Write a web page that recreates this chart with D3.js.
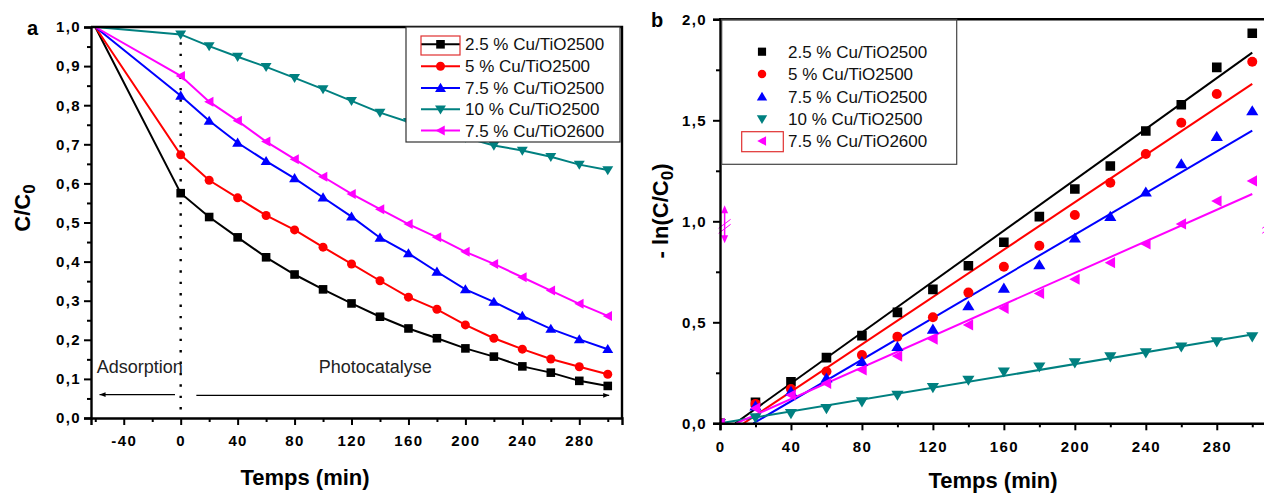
<!DOCTYPE html>
<html><head><meta charset="utf-8">
<script src="https://cdn.jsdelivr.net/npm/d3@7"></script>
<style>
body{margin:0;background:#fff}
svg{display:block}
text{font-family:"Liberation Sans",Arial,Helvetica,sans-serif}
</style>
</head><body>
<svg id="chart" width="1264" height="494"></svg>
<script>
// ---------------- DATA ----------------
const seriesNames = ["2.5 % Cu/TiO2500","5 % Cu/TiO2500","7.5 % Cu/TiO2500","10 % Cu/TiO2500","7.5 % Cu/TiO2600"];
const seriesColors = ["#000000","#ff0000","#0000ff","#008080","#ff00ff"];
const seriesMarkers = ["square","circle","up","down","left"];

// Panel a : C/C0 vs time
const timeA = [-60,0,20,40,60,80,100,120,140,160,180,200,220,240,260,280,300];
const a_cu25_500 = [1.0,0.575,0.514,0.462,0.411,0.367,0.329,0.293,0.259,0.229,0.204,0.178,0.157,0.132,0.116,0.095,0.082];
const a_cu5_500  = [1.0,0.673,0.608,0.563,0.518,0.481,0.437,0.394,0.351,0.309,0.278,0.238,0.204,0.176,0.151,0.131,0.112];
const a_cu75_500 = [1.0,0.824,0.760,0.704,0.657,0.613,0.564,0.515,0.461,0.421,0.374,0.329,0.297,0.261,0.228,0.201,0.176];
const a_cu10_500 = [1.0,0.981,0.951,0.924,0.898,0.870,0.841,0.811,0.781,0.757,0.738,0.717,0.697,0.684,0.668,0.648,0.634];
const a_cu75_600 = [1.0,0.875,0.809,0.760,0.707,0.662,0.617,0.573,0.534,0.496,0.462,0.425,0.394,0.360,0.326,0.292,0.261];
const aXMajor = [-40,0,40,80,120,160,200,240,280];
const aXMinor = [-60,-20,20,60,100,140,180,220,260,300];
const aYMajor = [0,0.1,0.2,0.3,0.4,0.5,0.6,0.7,0.8,0.9,1.0];
const aYMinor = [0.05,0.15,0.25,0.35,0.45,0.55,0.65,0.75,0.85,0.95];

// Panel b : -ln(C/C0) vs time
const timeB = [0,20,40,60,80,100,120,140,160,180,200,220,240,260,280,300];
const b_cu25_500 = [0,0.104,0.206,0.325,0.434,0.549,0.663,0.780,0.896,1.023,1.160,1.274,1.447,1.577,1.762,1.931];
const b_cu5_500  = [0,0.096,0.170,0.256,0.338,0.429,0.525,0.647,0.775,0.879,1.031,1.191,1.333,1.488,1.630,1.790];
const b_cu75_500 = [0,0.085,0.157,0.223,0.305,0.379,0.465,0.581,0.668,0.784,0.916,1.023,1.144,1.284,1.419,1.546];
const b_cu10_500 = [0,0.028,0.049,0.074,0.107,0.140,0.178,0.214,0.255,0.280,0.300,0.330,0.350,0.379,0.404,0.429];
const b_cu75_600 = [0,0.075,0.140,0.198,0.264,0.333,0.416,0.487,0.569,0.643,0.713,0.795,0.888,0.987,1.100,1.200];
// linear fits: start (time, value) and end (time, value)
const fitStartT = [8.6,13.3,18.8,0,9.2];
const fitStartV = [0,0,0,0,0];
const fitEndT   = [300,300,300,300,300];
const fitEndV   = [1.835,1.680,1.449,0.440,1.135];
const bXMajor = [0,40,80,120,160,200,240,280];
const bXMinor = [20,60,100,140,180,220,260,300];
const bYMajor = [0,0.5,1.0,1.5,2.0];
const bYMinor = [0.25,0.75,1.25,1.75];

const seriesA = [a_cu25_500,a_cu5_500,a_cu75_500,a_cu10_500,a_cu75_600];
const seriesB = [b_cu25_500,b_cu5_500,b_cu75_500,b_cu10_500,b_cu75_600];

// ---------------- DRAW ----------------
const svg = d3.select("#chart");
const fmt = d => d3.format(".1f")(d).replace(".", ",");
const fmtInt = d => String(d);

function markerPath(type, r){
  switch(type){
    case "square": return `M${-r},${-r}H${r}V${r}H${-r}Z`;
    case "circle": return `M${-r},0A${r},${r} 0 1,0 ${r},0A${r},${r} 0 1,0 ${-r},0Z`;
    case "up": return `M0,${-r}L${r*1.05},${r*0.75}L${-r*1.05},${r*0.75}Z`;
    case "down": return `M0,${r}L${r*1.05},${-r*0.75}L${-r*1.05},${-r*0.75}Z`;
    case "left": return `M${-r},0L${r*0.85},${-r}L${r*0.85},${r}Z`;
  }
}
const markerSizeA = {square:4.3,circle:4.5,up:5.2,down:5.2,left:5};
const markerSizeB = {square:4.8,circle:5,up:5.8,down:5.8,left:5.6};

function styleAxis(g, fontSize){
  g.select(".domain").attr("stroke","#000").attr("stroke-width",2.4);
  g.selectAll(".tick line").attr("stroke","#000").attr("stroke-width",2);
  g.selectAll("text").attr("font-size",fontSize).attr("font-weight","bold")
    .attr("fill","#000").attr("letter-spacing","1.4px")
    .style("font-family",'"Liberation Sans",Arial,sans-serif');
}

// ===== Panel a =====
const xa = d3.scaleLinear().domain([-63,310]).range([91,622]);
const ya = d3.scaleLinear().domain([0,1]).range([418,27]);

const ga = svg.append("g");
// dotted line at t=0
ga.append("line").attr("x1",xa(0)).attr("x2",xa(0)).attr("y1",ya(0.99)).attr("y2",ya(0.015))
  .attr("stroke","#000").attr("stroke-width",2.4).attr("stroke-dasharray","2.4,9");

const lineA = d3.line().x((d,i)=>xa(timeA[i])).y(d=>ya(d));
seriesA.forEach((s,k)=>{
  const g = ga.append("g");
  g.append("path").attr("d",lineA(s)).attr("fill","none")
    .attr("stroke",seriesColors[k]).attr("stroke-width",2);
  g.selectAll("path.m").data(s.slice(1)).join("path").attr("class","m")
    .attr("transform",(d,i)=>`translate(${xa(timeA[i+1])},${ya(d)})`)
    .attr("d",markerPath(seriesMarkers[k],markerSizeA[seriesMarkers[k]]))
    .attr("fill",seriesColors[k]);
});

// annotations
const defs = svg.append("defs");
defs.append("marker").attr("id","arrowL").attr("viewBox","0 0 10 10").attr("refX",0).attr("refY",5)
  .attr("markerWidth",10).attr("markerHeight",6).attr("markerUnits","userSpaceOnUse").attr("orient","auto")
  .append("path").attr("d","M10,1L0,5L10,9Z").attr("fill","#000");
defs.append("marker").attr("id","arrowR").attr("viewBox","0 0 10 10").attr("refX",10).attr("refY",5)
  .attr("markerWidth",10).attr("markerHeight",6).attr("markerUnits","userSpaceOnUse").attr("orient","auto")
  .append("path").attr("d","M0,1L10,5L0,9Z").attr("fill","#000");
// marker-end with orient auto: left-pointing line, so draw arrow path pointing forward
ga.append("line").attr("x1",xa(-4)).attr("x2",xa(-57)).attr("y1",ya(0.06)).attr("y2",ya(0.06))
  .attr("stroke","#000").attr("stroke-width",1.2).attr("marker-end","url(#arrowR)");
ga.append("line").attr("x1",xa(11)).attr("x2",xa(301)).attr("y1",ya(0.058)).attr("y2",ya(0.058))
  .attr("stroke","#000").attr("stroke-width",1.2).attr("marker-end","url(#arrowR)");
ga.append("text").attr("x",xa(-59)).attr("y",ya(0.115)).text("Adsorption")
  .attr("font-size",18).attr("fill","#222");
ga.append("text").attr("x",xa(97)).attr("y",ya(0.115)).text("Photocatalyse")
  .attr("font-size",18).attr("fill","#222");

// axes a
const axA = svg.append("g").attr("transform","translate(0,418)")
  .call(d3.axisBottom(xa).tickValues(aXMajor).tickSize(7).tickPadding(9).tickFormat(fmtInt));
styleAxis(axA,15);
axA.selectAll("text").attr("dy","0.71em").attr("y",17);
const axAm = svg.append("g").attr("transform","translate(0,418)")
  .call(d3.axisBottom(xa).tickValues(aXMinor).tickSize(4).tickFormat(""));
axAm.select(".domain").remove(); axAm.selectAll(".tick line").attr("stroke-width",2);
const ayA = svg.append("g").attr("transform","translate(91,0)")
  .call(d3.axisLeft(ya).tickValues(aYMajor).tickSize(7).tickPadding(3).tickFormat(fmt));
styleAxis(ayA,15);
const ayAm = svg.append("g").attr("transform","translate(91,0)")
  .call(d3.axisLeft(ya).tickValues(aYMinor).tickSize(4).tickFormat(""));
ayAm.select(".domain").remove(); ayAm.selectAll(".tick line").attr("stroke-width",2);
// frame top/right
svg.append("path").attr("d",`M91,27H622V418`).attr("fill","none").attr("stroke","#000").attr("stroke-width",2.4);

// legend a
const lgA = svg.append("g");
lgA.append("rect").attr("x",406).attr("y",27).attr("width",214).attr("height",115)
  .attr("fill","#fff").attr("stroke","#333").attr("stroke-width",1.2);
const rowsA = [44.3,66.3,88,109.3,130.5];
seriesNames.forEach((n,k)=>{
  const y = rowsA[k];
  lgA.append("line").attr("x1",421).attr("x2",460).attr("y1",y).attr("y2",y)
    .attr("stroke",seriesColors[k]).attr("stroke-width",2);
  lgA.append("path").attr("transform",`translate(440.5,${y})`)
    .attr("d",markerPath(seriesMarkers[k],markerSizeA[seriesMarkers[k]])).attr("fill",seriesColors[k]);
  lgA.append("text").attr("x",465).attr("y",y+6).text(n).attr("font-size",17).attr("fill","#111");
});
lgA.append("rect").attr("x",421).attr("y",36).attr("width",39).attr("height",19)
  .attr("fill","none").attr("stroke","#e03030").attr("stroke-width",1.2);

// titles a
svg.append("text").attr("x",27).attr("y",35).text("a").attr("font-size",20).attr("font-weight","bold");
const tA = svg.append("text").attr("transform","translate(30,208) rotate(-90)").attr("text-anchor","middle")
  .attr("font-size",22).attr("font-weight","bold");
tA.append("tspan").text("C/C");
tA.append("tspan").text("0").attr("font-size",17).attr("dy",5);
svg.append("text").attr("x",305).attr("y",485).attr("text-anchor","middle").text("Temps (min)")
  .attr("font-size",22).attr("font-weight","bold");

// ===== Panel b =====
const xb = d3.scaleLinear().domain([0,310]).range([720,1270]);
const yb = d3.scaleLinear().domain([0,2]).range([423.3,19.3]);
svg.append("clipPath").attr("id","clipB").append("rect")
  .attr("x",720).attr("y",19.3).attr("width",550).attr("height",404);

const gb = svg.append("g").attr("clip-path","url(#clipB)");
seriesB.forEach((s,k)=>{
  gb.append("line").attr("x1",xb(fitStartT[k])).attr("y1",yb(fitStartV[k]))
    .attr("x2",xb(fitEndT[k])).attr("y2",yb(fitEndV[k]))
    .attr("stroke",seriesColors[k]).attr("stroke-width",2);
});
seriesB.forEach((s,k)=>{
  gb.selectAll(null).data(s).join("path")
    .attr("transform",(d,i)=>`translate(${xb(timeB[i])},${yb(d)})`)
    .attr("d",markerPath(seriesMarkers[k],markerSizeB[seriesMarkers[k]]))
    .attr("fill",seriesColors[k]);
});

// axis break-like magenta symbols at y = 1.0
function breakSym(x,y){
  const g = svg.append("g").attr("transform",`translate(${x},${y})`).attr("stroke","#ff00ff").attr("fill","#ff00ff");
  g.append("line").attr("x1",0).attr("x2",0).attr("y1",-14).attr("y2",14).attr("stroke-width",1.5);
  g.append("path").attr("d","M0,-19L3.5,-11L-3.5,-11Z").attr("stroke","none");
  g.append("path").attr("d","M0,19L3.5,11L-3.5,11Z").attr("stroke","none");
  g.append("line").attr("x1",-6).attr("y1",4).attr("x2",6).attr("y2",-5).attr("stroke-width",1);
  g.append("line").attr("x1",-6).attr("y1",9).attr("x2",6).attr("y2",0).attr("stroke-width",1);
}
breakSym(xb(2.6), yb(0.985));
breakSym(xb(309), yb(0.985));

const axB = svg.append("g").attr("transform","translate(0,423.3)")
  .call(d3.axisBottom(xb).tickValues(bXMajor).tickSize(7).tickPadding(9).tickFormat(fmtInt));
styleAxis(axB,15);
axB.selectAll("text").attr("dy","0.71em").attr("y",18);
const axBm = svg.append("g").attr("transform","translate(0,423.3)")
  .call(d3.axisBottom(xb).tickValues(bXMinor).tickSize(4).tickFormat(""));
axBm.select(".domain").remove(); axBm.selectAll(".tick line").attr("stroke-width",2);
const ayB = svg.append("g").attr("transform","translate(720,0)")
  .call(d3.axisLeft(yb).tickValues(bYMajor).tickSize(7).tickPadding(6).tickFormat(fmt));
styleAxis(ayB,15);
const ayBm = svg.append("g").attr("transform","translate(720,0)")
  .call(d3.axisLeft(yb).tickValues(bYMinor).tickSize(4).tickFormat(""));
ayBm.select(".domain").remove(); ayBm.selectAll(".tick line").attr("stroke-width",2);
svg.append("line").attr("x1",719).attr("x2",1264).attr("y1",19.3).attr("y2",19.3)
  .attr("stroke","#000").attr("stroke-width",2.4);

// legend b
const lgB = svg.append("g");
lgB.append("rect").attr("x",721.7).attr("y",19.3).attr("width",235).attr("height",145)
  .attr("fill","none").attr("stroke","#444").attr("stroke-width",1.2);
const rowsB = [51.7,74,96.7,119,141];
seriesNames.forEach((n,k)=>{
  const y = rowsB[k];
  lgB.append("path").attr("transform",`translate(762,${y})`)
    .attr("d",markerPath(seriesMarkers[k],markerSizeB[seriesMarkers[k]]*0.85)).attr("fill",seriesColors[k]);
  lgB.append("text").attr("x",788).attr("y",y+6).text(n).attr("font-size",17).attr("fill","#111");
});
lgB.append("rect").attr("x",741.7).attr("y",131.7).attr("width",41.6).attr("height",20)
  .attr("fill","none").attr("stroke","#e03030").attr("stroke-width",1.2);

svg.append("text").attr("x",651).attr("y",27).text("b").attr("font-size",20).attr("font-weight","bold");
const tB = svg.append("text").attr("transform","translate(668,211) rotate(-90)").attr("text-anchor","middle")
  .attr("font-size",22).attr("font-weight","bold");
tB.append("tspan").text("- ln(C/C");
tB.append("tspan").text("0").attr("font-size",17).attr("dy",5);
tB.append("tspan").text(")").attr("dy",-5);
svg.append("text").attr("x",993).attr("y",488).attr("text-anchor","middle").text("Temps (min)")
  .attr("font-size",22).attr("font-weight","bold");
</script>
</body></html>
